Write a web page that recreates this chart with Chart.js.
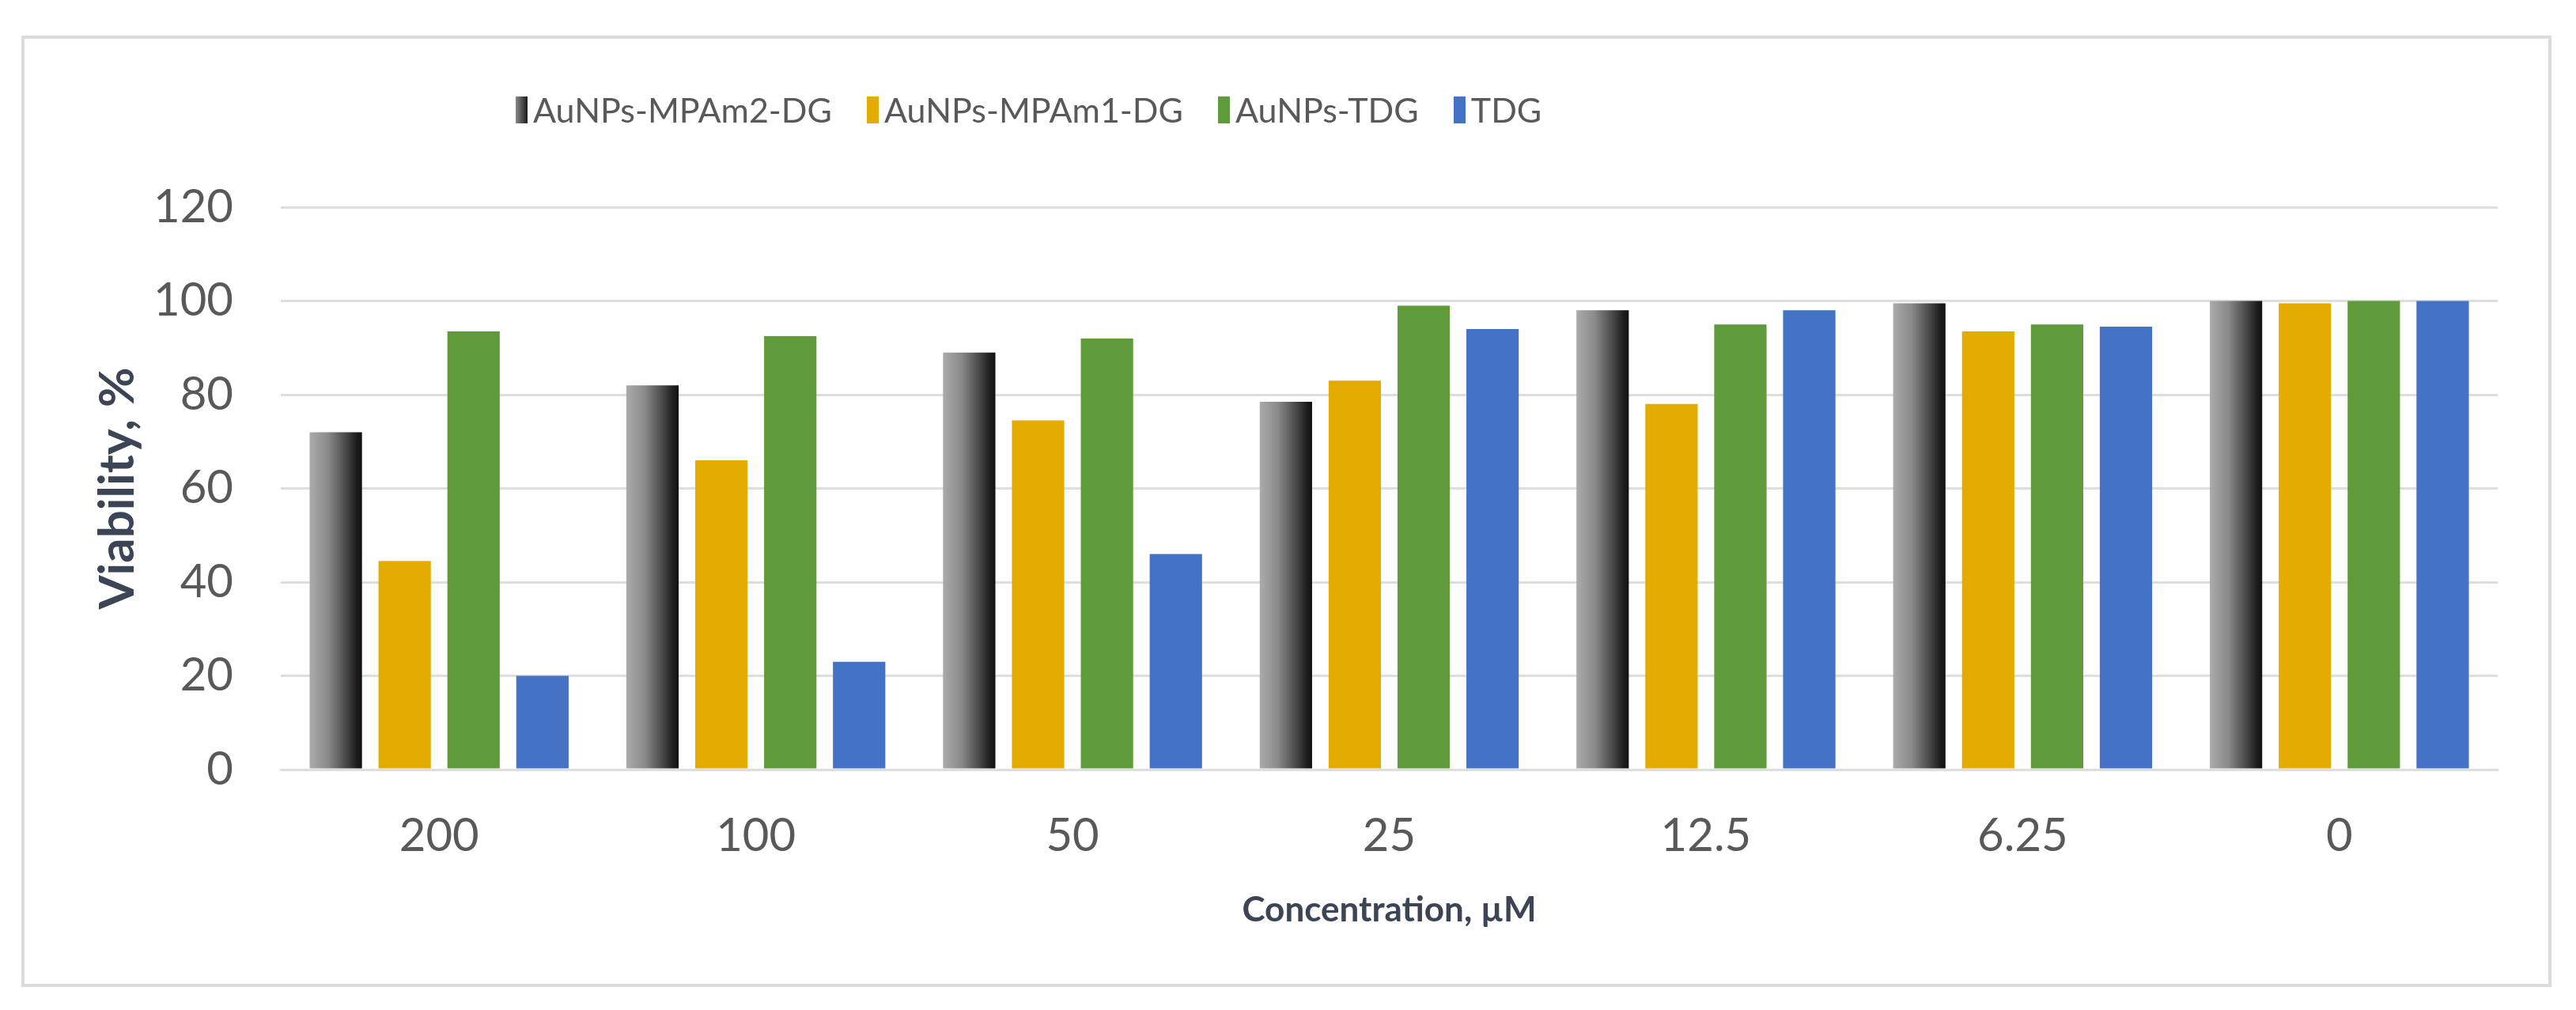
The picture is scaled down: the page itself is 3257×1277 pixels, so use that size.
<!DOCTYPE html>
<html>
<head>
<meta charset="utf-8">
<script src="https://cdn.jsdelivr.net/npm/chart.js@4.4.1/dist/chart.umd.min.js"></script>
<style>
  html, body { margin: 0; padding: 0; background: #fff; }
  #wrap { position: relative; width: 3257px; height: 1277px; background: #fff; }
  #frame {
    position: absolute; left: 27px; top: 45px; width: 3191px; height: 1195px;
    border: 4px solid #dcdcdc;
  }
  #chart { position: absolute; left: 0; top: 0; }
  #legend {
    position: absolute; left: 652px; top: 113px;
    display: flex; align-items: center;
    font-family: Lato, "Liberation Sans", sans-serif; font-size: 43px; color: #595959;
  }
  #legend .item { display: flex; align-items: center; margin-right: 44px; }
  #legend .box { width: 15px; height: 34px; margin-right: 7px; }
</style>
</head>
<body>
<div id="wrap">
  <div id="frame"></div>
  <canvas id="chart" width="3257" height="1277"></canvas>
  <div id="legend"></div>
</div>
<script>
// === Données ===
const concentrations = ["200", "100", "50", "25", "12.5", "6.25", "0"];
const seriesNames = ["AuNPs-MPAm2-DG", "AuNPs-MPAm1-DG", "AuNPs-TDG", "TDG"];

const mpam2 = [72, 82, 89, 78.5, 98, 99.5, 100];
const mpam1 = [44.5, 66, 74.5, 83, 78, 93.5, 99.5];
const auTdg = [93.5, 92.5, 92, 99, 95, 95, 100];
const tdg = [20, 23, 46, 94, 98, 94.5, 100];

const yTicks = [0, 20, 40, 60, 80, 100, 120];

const CAT_PCT = 0.87;
const BAR_PCT = 0.76;

// dégradé gris -> noir pour la 1re série, calculé depuis l'échelle x
function grayGradient(context) {
  const chart = context.chart;
  const area = chart.chartArea;
  if (!area || context.type !== 'data') return '#4a4a4a';
  const xScale = chart.scales.x;
  const n = chart.data.datasets.length;
  const catW = (area.right - area.left) / concentrations.length;
  const slot = catW * CAT_PCT / n;
  const center = xScale.getPixelForValue(context.dataIndex) - catW * CAT_PCT / 2 + slot / 2;
  const w = slot * BAR_PCT;
  const g = chart.ctx.createLinearGradient(center - w / 2, 0, center + w / 2, 0);
  g.addColorStop(0, '#ababab');
  g.addColorStop(0.35, '#8a8a8a');
  g.addColorStop(0.7, '#474747');
  g.addColorStop(0.9, '#1d1d1d');
  g.addColorStop(1, '#111111');
  return g;
}

const colors = [grayGradient, "#E5AC00", "#5F9B3B", "#4472C4"];
const legendColors = ["linear-gradient(90deg,#8a8a8a,#1a1a1a)", "#E5AC00", "#5F9B3B", "#4472C4"];

const chart = new Chart(document.getElementById("chart"), {
  type: "bar",
  data: {
    labels: concentrations,
    datasets: [mpam2, mpam1, auTdg, tdg].map((vals, i) => ({
      label: seriesNames[i],
      data: vals,
      backgroundColor: colors[i],
      borderWidth: 0,
      categoryPercentage: CAT_PCT,
      barPercentage: BAR_PCT,
    }))
  },
  options: {
    responsive: false,
    animation: false,
    devicePixelRatio: 1,
    layout: { padding: { left: 0, right: 99, top: 262, bottom: 0 } },
    plugins: {
      legend: { display: false },
      tooltip: { enabled: false }
    },
    scales: {
      x: {
        afterFit: axis => { axis.height = 304; },
        grid: { display: false, drawTicks: false },
        border: { display: true, color: "#dedede", width: 3 },
        ticks: {
          padding: 49,
          color: "#595959",
          font: { family: "Lato", size: 58 }
        },
        title: {
          display: true,
          text: "Concentration, µM",
          color: "#3b4555",
          padding: { top: 0, bottom: 100 },
          font: { family: "Lato", size: 44, weight: "bold" }
        }
      },
      y: {
        min: 0,
        max: 120,
        afterBuildTicks: axis => { axis.ticks = yTicks.map(v => ({ value: v })); },
        afterFit: axis => { axis.width = 355; },
        grid: { color: "#dedede", lineWidth: 3, drawTicks: false },
        border: { display: false },
        ticks: {
          padding: 60,
          color: "#595959",
          font: { family: "Lato", size: 58 }
        },
        title: {
          display: true,
          text: "Viability, %",
          color: "#3b4555",
          padding: { top: 112, bottom: 0 },
          font: { family: "Lato", size: 62, weight: "bold" }
        }
      }
    }
  }
});

// légende HTML construite depuis les datasets
const legendEl = document.getElementById("legend");
chart.data.datasets.forEach((ds, i) => {
  const item = document.createElement("div");
  item.className = "item";
  const box = document.createElement("span");
  box.className = "box";
  box.style.background = legendColors[i];
  const txt = document.createElement("span");
  txt.textContent = ds.label;
  item.appendChild(box);
  item.appendChild(txt);
  legendEl.appendChild(item);
});
</script>
</body>
</html>
